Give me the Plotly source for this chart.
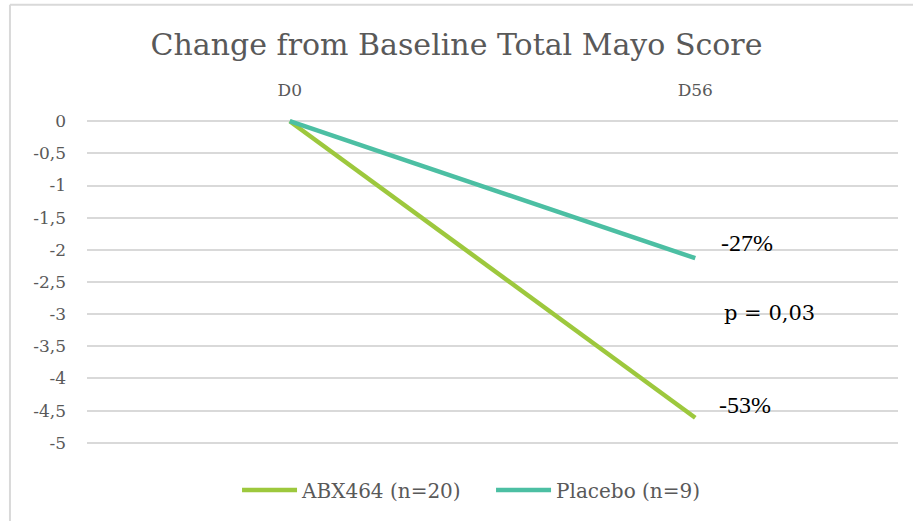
import plotly.graph_objects as go

# Visits and mean change from baseline in Total Mayo Score
visits = ["D0", "D56"]
abx464_change = [0, -4.61]
placebo_change = [0, -2.13]

series_names = ["ABX464 (n=20)", "Placebo (n=9)"]
pct_labels = ["-53%", "-27%"]
p_value_text = "p = 0,03"
p_value_y = -2.98

y_ticks = [0, -0.5, -1, -1.5, -2, -2.5, -3, -3.5, -4, -4.5, -5]
y_tick_text = ["0", "-0,5", "-1", "-1,5", "-2", "-2,5", "-3", "-3,5", "-4", "-4,5", "-5"]

GREEN = "#9DC83D"
TEAL = "#4CBFA3"
GREY_TEXT = "#595959"
SERIF = "DejaVu Serif"
NOTE_FONT = dict(family="Liberation Serif", size=24, color="#000000")

fig = go.Figure()
fig.add_trace(go.Scatter(
    x=visits, y=abx464_change, name=series_names[0], mode="lines",
    line=dict(color=GREEN, width=4.5),
))
fig.add_trace(go.Scatter(
    x=visits, y=placebo_change, name=series_names[1], mode="lines",
    line=dict(color=TEAL, width=4.5),
))

# Percent-change labels beside each endpoint and the p-value between them
fig.add_annotation(x=visits[1], y=placebo_change[1], text=pct_labels[1],
                   xanchor="left", yanchor="middle", xshift=24, yshift=15,
                   showarrow=False, font=NOTE_FONT)
fig.add_annotation(x=visits[1], y=abx464_change[1], text=pct_labels[0],
                   xanchor="left", yanchor="middle", xshift=22, yshift=13,
                   showarrow=False, font=NOTE_FONT)
fig.add_annotation(x=visits[1], y=p_value_y, text=p_value_text,
                   xanchor="left", yanchor="middle", xshift=27,
                   showarrow=False, font=dict(family=SERIF, size=21, color="#000000"))

# Chart frame (left and top edges)
fig.add_shape(type="line", xref="paper", yref="paper", x0=-0.095, x1=1.03, y0=1.345, y1=1.345,
              line=dict(color="#D9D9D9", width=2))
fig.add_shape(type="line", xref="paper", yref="paper", x0=-0.095, x1=-0.095, y0=1.345, y1=-0.3,
              line=dict(color="#D9D9D9", width=2))

fig.update_layout(
    width=913, height=521,
    margin=dict(l=87, r=15, t=118, b=75),
    paper_bgcolor="white", plot_bgcolor="white",
    title=dict(text="Change from Baseline Total Mayo Score", x=0.5, xref="container",
               xanchor="center", y=0.9155, yanchor="middle",
               font=dict(family=SERIF, size=30, color=GREY_TEXT)),
    xaxis=dict(side="top", range=[-0.5, 1.5], showgrid=False, showline=False,
               zeroline=False, ticks="", ticklabelstandoff=18,
               tickfont=dict(family=SERIF, size=17, color=GREY_TEXT)),
    yaxis=dict(range=[-5.05, 0.05], tickvals=y_ticks, ticktext=y_tick_text,
               showgrid=True, gridcolor="#D9D9D9", gridwidth=1.5, zeroline=False,
               showline=False, ticks="", ticklabelstandoff=20,
               tickfont=dict(family=SERIF, size=17, color=GREY_TEXT)),
    legend=dict(orientation="h", x=0.185, xanchor="left", y=-0.134, yanchor="middle",
                itemwidth=55, entrywidth=184, entrywidthmode="pixels",
                font=dict(family=SERIF, size=20, color=GREY_TEXT)),
    showlegend=True,
)

fig.write_html("out.html")
